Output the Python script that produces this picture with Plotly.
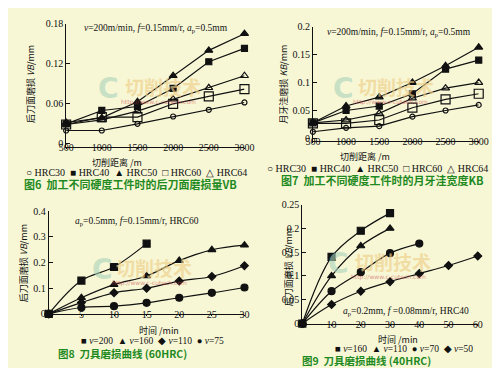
import plotly.graph_objects as go

W, H = 500, 368

# ---------------- data ----------------
dist = [500, 1000, 1500, 2000, 2500, 3000]
hrc_names = ["HRC30", "HRC40", "HRC50", "HRC60", "HRC64"]

# Fig6: flank wear VB (mm) vs cutting distance
vb6_hrc30 = [0.020, 0.020, 0.030, 0.041, 0.051, 0.062]
vb6_hrc40 = [0.030, 0.050, 0.056, 0.083, 0.123, 0.143]
vb6_hrc50 = [0.032, 0.039, 0.063, 0.102, 0.140, 0.165]
vb6_hrc60 = [0.029, 0.040, 0.040, 0.060, 0.071, 0.082]
vb6_hrc64 = [0.029, 0.036, 0.049, 0.067, 0.084, 0.102]

# Fig7: crater width KB (mm) vs cutting distance
kb7_hrc30 = [0.012, 0.019, 0.022, 0.039, 0.050, 0.060]
kb7_hrc40 = [0.028, 0.050, 0.058, 0.080, 0.124, 0.140]
kb7_hrc50 = [0.028, 0.058, 0.074, 0.100, 0.130, 0.163]
kb7_hrc60 = [0.027, 0.027, 0.033, 0.055, 0.070, 0.080]
kb7_hrc64 = [0.028, 0.033, 0.045, 0.072, 0.090, 0.100]

# Fig8: tool wear vs time (60HRC)
t8_v200 = [0, 5, 10, 15]
vb8_v200 = [0, 0.130, 0.183, 0.274]
t8 = [0, 5, 10, 15, 20, 25, 30]
vb8_v160 = [0, 0.063, 0.114, 0.148, 0.208, 0.250, 0.268]
vb8_v110 = [0, 0.044, 0.082, 0.100, 0.128, 0.146, 0.188]
vb8_v75 = [0, 0.025, 0.030, 0.043, 0.063, 0.082, 0.103]

# Fig9: tool wear vs time (40HRC)
t9_v160 = [0, 10, 20, 30]
vb9_v160 = [0, 0.140, 0.195, 0.232]
t9_v110 = [0, 10, 20, 30]
vb9_v110 = [0, 0.100, 0.163, 0.200]
t9_v70 = [0, 10, 20, 30, 40]
vb9_v70 = [0, 0.068, 0.108, 0.148, 0.168]
t9_v50 = [0, 10, 20, 30, 40, 50, 60]
vb9_v50 = [0, 0.040, 0.068, 0.088, 0.105, 0.122, 0.142]

# tick labels
y6_ticks = [0, 0.06, 0.12, 0.18]
y6_labels = ["0", "0.06", "0.12", "0.18"]
y7_ticks = [0, 0.05, 0.1, 0.15, 0.2]
y7_labels = ["0", "0.05", "0.1", "0.15", "0.2"]
y8_ticks = [0, 0.1, 0.2, 0.3, 0.4]
y8_labels = ["0", "0.1", "0.2", "0.3", "0.4"]
x8_ticks = [5, 10, 15, 20, 25, 30]
y9_ticks = [0, 0.05, 0.1, 0.15, 0.2, 0.25]
y9_labels = ["0", "0.05", "0.1", "0.15", "0.2", "0.25"]
x9_ticks = [0, 10, 20, 30, 40, 50, 60]

# ---------------- style ----------------
BG = "#f7f7d6"
INK = "#111111"
GREEN = "#1f8a1f"
SERIF = "Liberation Serif"
CJK = "Noto Sans CJK SC"


def X(px):
    return px / W


def Y(py):
    return 1 - py / H


fig = go.Figure()


def add(x, y, sym, size, ax, shape="linear"):
    fig.add_trace(go.Scatter(
        x=x, y=y, mode="lines+markers", xaxis="x" + ax, yaxis="y" + ax,
        line=dict(color=INK, width=1.2, shape=shape),
        marker=dict(symbol=sym, size=size, color=INK,
                    line=dict(color=INK, width=1.2)),
        cliponaxis=False, showlegend=False))


# Fig6
add(dist, vb6_hrc30, "circle-open", 5, "")
add(dist, vb6_hrc40, "square", 6, "")
add(dist, vb6_hrc50, "triangle-up", 7, "")
add(dist, vb6_hrc60, "square-open", 9, "")
add(dist, vb6_hrc64, "triangle-up-open", 7, "")
# Fig7
add(dist, kb7_hrc30, "circle-open", 5, "2")
add(dist, kb7_hrc40, "square", 6, "2")
add(dist, kb7_hrc50, "triangle-up", 7, "2")
add(dist, kb7_hrc60, "square-open", 9, "2")
add(dist, kb7_hrc64, "triangle-up-open", 7, "2")
# Fig8
add(t8_v200, vb8_v200, "square", 7, "3", "spline")
add(t8, vb8_v160, "triangle-up", 7, "3", "spline")
add(t8, vb8_v110, "diamond", 6, "3", "spline")
add(t8, vb8_v75, "circle", 7, "3", "spline")
# Fig9
add(t9_v160, vb9_v160, "square", 7, "4", "spline")
add(t9_v110, vb9_v110, "triangle-up", 7, "4", "spline")
add(t9_v70, vb9_v70, "circle", 7, "4", "spline")
add(t9_v50, vb9_v50, "diamond", 6, "4", "spline")

tickfont = dict(family=SERIF, size=10, color=INK)


def xax(dom, rng, tickvals, ticktext=None):
    return dict(domain=dom, range=rng, tickvals=tickvals,
                ticktext=ticktext or [str(v) for v in tickvals],
                showline=True, linecolor=INK, linewidth=1, showgrid=False,
                zeroline=False, ticks="outside", ticklen=1, tickcolor=INK,
                tickfont=tickfont, ticklabelstandoff=-10)


def yax(dom, rng, tickvals, ticktext, anchor):
    return dict(domain=dom, range=rng, tickvals=tickvals, ticktext=ticktext,
                showline=True, linecolor=INK, linewidth=1, showgrid=False,
                zeroline=False, ticks="inside", ticklen=4, tickcolor=INK,
                tickfont=tickfont, anchor=anchor)


layout = dict(
    width=W, height=H, margin=dict(l=0, r=0, t=0, b=0),
    paper_bgcolor=BG, plot_bgcolor=BG, showlegend=False,
    xaxis=dict(**xax([X(52), X(237)], [500, 3000], dist), anchor="y"),
    yaxis=yax([Y(137), Y(10)], [-0.004, 0.18], y6_ticks, y6_labels, "x"),
    xaxis2=dict(**xax([X(308), X(480)], [500, 3000], dist), anchor="y2"),
    yaxis2=yax([Y(131), Y(13)], [-0.004, 0.2], y7_ticks, y7_labels, "x2"),
    xaxis3=dict(**xax([X(34), X(237)], [0, 30], x8_ticks), anchor="y3"),
    yaxis3=yax([Y(310), Y(204)], [0, 0.4], y8_ticks, y8_labels, "x3"),
    xaxis4=dict(**xax([X(297), X(479)], [0, 60], x9_ticks), anchor="y4"),
    yaxis4=yax([Y(320), Y(197)], [0, 0.25], y9_ticks, y9_labels, "x4"),
)
fig.update_layout(**layout)

ann = []


def text(x, y, s, size=10, color=INK, family=SERIF, angle=0, xanchor="center", opacity=1):
    ann.append(dict(x=X(x), y=Y(y), xref="paper", yref="paper", text=s,
                    showarrow=False, textangle=angle, xanchor=xanchor,
                    yanchor="middle", opacity=opacity,
                    font=dict(family=family, size=size, color=color)))


# watermarks
for (cx, tx, wy) in [(96, 153, 77), (340, 394, 77), (90, 143, 264), (335, 391, 258)]:
    text(cx, wy, "<b>C</b>", 28, "#a9d3bb", "DejaVu Sans", opacity=0.6)
    text(tx, wy - 2, "<b>切削技术</b>", 19, "#eed08a", CJK, opacity=0.65)
    text(tx - 5, wy + 14, "http://www.c-cutech.com", 6, "#d05050", "DejaVu Sans", opacity=0.6)

# parameter notes
text(145, 15, "<i>v</i>=200m/min, <i>f</i>=0.15mm/r, <i>a</i><sub>p</sub>=0.5mm", 9.5)
text(397, 19, "<i>v</i>=200m/min, <i>f</i>=0.15mm/r, <i>a</i><sub>p</sub>=0.5mm", 9.5)
text(126, 215, "<i>a</i><sub>p</sub>=0.5mm, <i>f</i>=0.15mm/r, HRC60", 9.5)
text(405, 308, "<i>a</i><sub>p</sub>=0.2mm, <i>f</i> =0.08mm/r, HRC40", 9.5)

# y-axis titles
text(15, 72, "后刀面磨损 <i>VB</i>/mm", 9, INK, CJK, -90)
text(278, 72, "月牙洼磨损 <i>KB</i>/mm", 9, INK, CJK, -90)
text(8, 258, "后刀面磨损 <i>VB</i>/mm", 9, INK, CJK, -90)
text(283, 262, "后刀面磨损 <i>VB</i>/mm", 9, INK, CJK, -90)

# x-axis titles
text(105, 153, "切削距离 /m", 9, INK, CJK)
text(362, 147, "切削距离 /m", 9, INK, CJK)
text(148, 327, "时间 /min", 9, INK, CJK)
text(396, 336, "时间 /min", 9, INK, CJK)

# legends
leg67 = "○ HRC30  ■ HRC40  ▲ HRC50  □ HRC60  △ HRC64"
text(125, 164, leg67, 10, INK, SERIF)
text(375, 160, leg67, 10, INK, SERIF)
text(142, 338, "■ <i>v</i>=200  ▲ <i>v</i>=160  ◆ <i>v</i>=110  ● <i>v</i>=75", 9.5, INK, SERIF)
text(403, 346, "■ <i>v</i>=160  ▲ <i>v</i>=110  ● <i>v</i>=70  ◆ <i>v</i>=50", 9.5, INK, SERIF)

# captions
text(119, 176, "<b>图6  加工不同硬度工件时的后刀面磨损量VB</b>", 11, GREEN, CJK)
text(380, 172, "<b>图7  加工不同硬度工件时的月牙洼宽度KB</b>", 11, GREEN, CJK)
text(110, 351, "<b>图8  刀具磨损曲线 (60HRC)</b>", 10.5, GREEN, CJK)
text(364, 358, "<b>图9  刀具磨损曲线 (40HRC)</b>", 10.5, GREEN, CJK)

fig.update_layout(annotations=ann)
fig.write_html("out.html")
